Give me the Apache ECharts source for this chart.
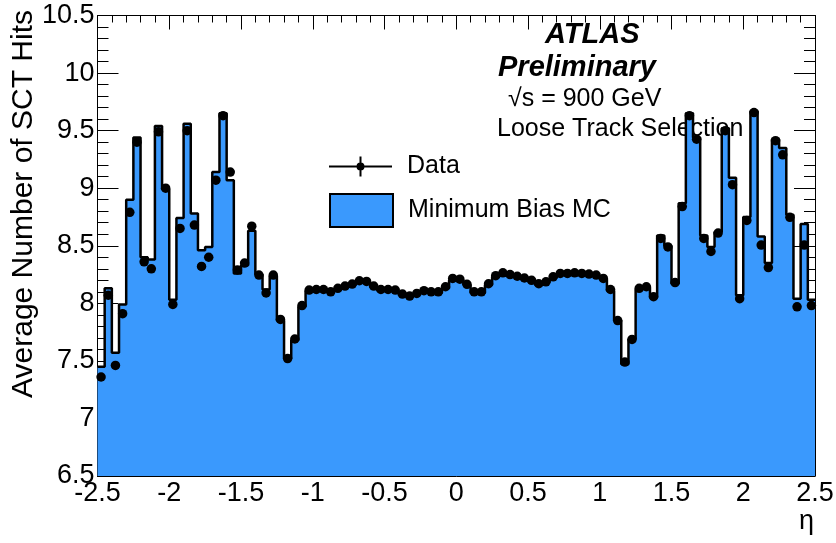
<!DOCTYPE html>
<html><head><meta charset="utf-8">
<script src="https://cdn.jsdelivr.net/npm/echarts@6/dist/echarts.min.js"></script>
<style>html,body{margin:0;padding:0;background:#fff}#c{width:836px;height:543px}</style>
</head><body><div id="c"></div>
<script>
const etaMin = -2.5, etaMax = 2.5, binWidth = 0.05;
const yMin = 6.5, yMax = 10.5;
const xTickStep = 0.5, yTickStep = 0.5;

const mcValues = [
  7.45, 8.13, 7.57, 7.99, 8.90, 9.44, 8.40, 8.38, 9.54, 8.99,
  8.03, 8.74, 9.56, 8.78, 8.46, 8.49, 9.14, 9.65, 9.07, 8.26,
  8.33, 8.63, 8.25, 8.12, 8.24, 7.85, 7.52, 7.68, 7.97, 8.11,
  8.11, 8.11, 8.10, 8.12, 8.14, 8.16, 8.19, 8.18, 8.14, 8.11,
  8.11, 8.10, 8.07, 8.06, 8.08, 8.10, 8.09, 8.09, 8.13, 8.20,
  8.20, 8.16, 8.09, 8.09, 8.16, 8.23, 8.25, 8.24, 8.23, 8.21,
  8.19, 8.16, 8.18, 8.22, 8.25, 8.25, 8.25, 8.25, 8.24, 8.24,
  8.21, 8.11, 7.85, 7.47, 7.69, 8.12, 8.14, 8.05, 8.59, 8.50,
  8.17, 8.87, 9.65, 9.44, 8.59, 8.49, 8.62, 9.52, 9.09, 8.07,
  8.75, 9.67, 8.58, 8.35, 9.425, 9.35, 8.77, 8.04, 8.69, 8.03
];
const dataValues = [
  7.36, 8.07, 7.46, 7.91, 8.79, 9.40, 8.36, 8.30, 9.49, 9.00,
  7.99, 8.65, 9.50, 8.68, 8.32, 8.40, 9.07, 9.63, 9.14, 8.29,
  8.35, 8.67, 8.245, 8.09, 8.245, 7.86, 7.52, 7.69, 7.98, 8.115,
  8.12, 8.12, 8.10, 8.13, 8.15, 8.167, 8.196, 8.19, 8.15, 8.12,
  8.12, 8.115, 8.08, 8.063, 8.086, 8.11, 8.10, 8.10, 8.144, 8.216,
  8.21, 8.165, 8.10, 8.10, 8.17, 8.24, 8.265, 8.25, 8.235, 8.22,
  8.20, 8.17, 8.187, 8.23, 8.26, 8.26, 8.265, 8.26, 8.254, 8.245,
  8.216, 8.12, 7.85, 7.49, 7.686, 8.13, 8.144, 8.057, 8.564, 8.49,
  8.18, 8.84, 9.63, 9.425, 8.564, 8.45, 8.61, 9.50, 9.03, 8.04,
  8.72, 9.657, 8.506, 8.31, 9.413, 9.29, 8.747, 7.97, 8.506, 7.98
];

const seriesNames = ['Data', 'Minimum Bias MC'];
const labelTexts = ['ATLAS', 'Preliminary', '√s = 900 GeV', 'Loose Track Selection'];
const axisTitles = { x: 'η', y: 'Average Number of SCT Hits' };

const FONT = 'Liberation Sans, Arial, Helvetica, sans-serif';
const BLUE = '#3a99fd';

const edge = i => Math.round((etaMin + i * binWidth) * 1000) / 1000;
const mcStep = mcValues.map((v, i) => [edge(i), v]);
mcStep.push([etaMax, mcValues[mcValues.length - 1]]);
const dataPts = dataValues.map((v, i) => [edge(i) + binWidth / 2, v]);

const chart = echarts.init(document.getElementById('c'), null, { renderer: 'canvas' });

function xAxisCfg(pos, showLabel) {
  return {
    type: 'value', position: pos, min: etaMin, max: etaMax, interval: xTickStep,
    axisLine: { show: true, onZero: false, lineStyle: { color: '#000', width: 1 } },
    axisTick: { show: true, inside: true, length: 14, lineStyle: { color: '#000', width: 1 } },
    minorTick: { show: true, splitNumber: 5, length: 7, lineStyle: { color: '#000', width: 1 } },
    splitLine: { show: false },
    axisLabel: { show: showLabel, color: '#000', fontSize: 27, fontFamily: FONT, margin: 4 }
  };
}
function yAxisCfg(pos, showLabel) {
  return {
    type: 'value', position: pos, min: yMin, max: yMax, interval: yTickStep,
    axisLine: { show: true, onZero: false, lineStyle: { color: '#000', width: 1 } },
    axisTick: { show: true, inside: true, length: 21, lineStyle: { color: '#000', width: 1 } },
    minorTick: { show: true, splitNumber: 5, length: 11, lineStyle: { color: '#000', width: 1 } },
    splitLine: { show: false },
    axisLabel: { show: showLabel, color: '#000', fontSize: 27, fontFamily: FONT, margin: 3 }
  };
}

const option = {
  animation: false,
  backgroundColor: '#fff',
  grid: { left: 97.5, right: 21, top: 15.5, bottom: 67, containLabel: false, outerBoundsMode: 'none' },
  xAxis: [xAxisCfg('bottom', true), xAxisCfg('top', false)],
  yAxis: [yAxisCfg('left', true), yAxisCfg('right', false)],
  legend: [
    {
      data: [{ name: seriesNames[0],
        icon: 'path://M0,9 L63,9 L63,11 L0,11 Z M30.5,0 L32.5,0 L32.5,20 L30.5,20 Z M27.5,10 A4,4 0 1,1 35.5,10 A4,4 0 1,1 27.5,10 Z',
        itemStyle: { color: '#000', opacity: 1, borderWidth: 0 } }],
      left: 329, top: 154, itemWidth: 63, itemHeight: 20, padding: 0,
      selectedMode: false,
      textStyle: { fontSize: 25, color: '#000', fontFamily: FONT, padding: [0, 0, 0, 10] }
    },
    {
      data: [{ name: seriesNames[1], icon: 'rect',
        itemStyle: { color: BLUE, borderColor: '#000', borderWidth: 2 } }],
      left: 329, top: 193, itemWidth: 63, itemHeight: 33, padding: 0,
      selectedMode: false,
      textStyle: { fontSize: 25, color: '#000', fontFamily: FONT, padding: [0, 0, 0, 10] }
    }
  ],
  graphic: [
    { type: 'text', z: 1, left: 545, top: 20, style: { text: labelTexts[0], font: 'italic bold 29px ' + FONT, fill: '#000' } },
    { type: 'text', z: 1, left: 498, top: 53, style: { text: labelTexts[1], font: 'italic bold 29px ' + FONT, fill: '#000' } },
    { type: 'text', z: 1, left: 508, top: 87, style: { text: labelTexts[2], font: '25px ' + FONT, fill: '#000' } },
    { type: 'text', z: 1, left: 497, top: 117, style: { text: labelTexts[3], font: '25px ' + FONT, fill: '#000' } },
    { type: 'text', z: 1, x: 814, y: 522, style: { text: axisTitles.x, font: '27px ' + FONT, fill: '#000', align: 'right', verticalAlign: 'middle' } },
    { type: 'text', z: 1, x: 24, y: 10, rotation: Math.PI / 2, style: { text: axisTitles.y, font: '30px ' + FONT, fill: '#000', align: 'right', verticalAlign: 'middle' } }
  ],
  series: [
    {
      name: seriesNames[1], type: 'line', step: 'end', data: mcStep,
      xAxisIndex: 0, yAxisIndex: 0,
      symbol: 'none', showSymbol: false, z: 3,
      itemStyle: { color: BLUE },
      lineStyle: { color: '#000', width: 2.5 },
      areaStyle: { color: BLUE, opacity: 1, origin: 'start' }
    },
    {
      name: seriesNames[0], type: 'scatter', data: dataPts,
      xAxisIndex: 0, yAxisIndex: 0,
      symbol: 'circle', symbolSize: 9.5, z: 4,
      itemStyle: { color: '#000', opacity: 1 }
    }
  ]
};
chart.setOption(option);
</script></body></html>
